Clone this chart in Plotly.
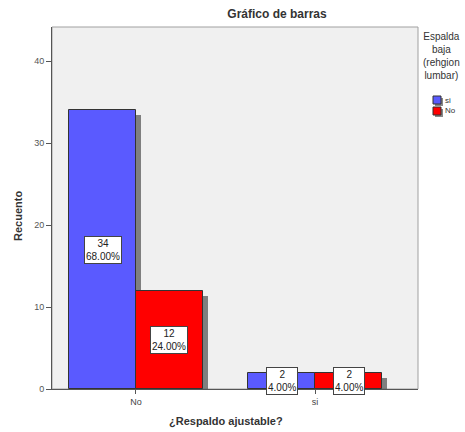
import plotly.graph_objects as go

# Counts by "¿Respaldo ajustable?" (x) and "Espalda baja (rehgion lumbar)" (series)
categories = ["No", "si"]
counts_si = [34, 2]
counts_no = [12, 2]
pct_si = ["68.00%", "4.00%"]
pct_no = ["24.00%", "4.00%"]
series_names = ["si", "No"]
series_colors = ["#5A5AFF", "#FF0000"]

W, H = 465, 432
L, R, T, B = 52, 47, 27, 43
plot_w = W - L - R
plot_h = H - T - B

x_pos = list(range(len(categories)))
bar_w = 0.374
x_range = [-0.469, 1.575]
y_range = [0, 44.15]

# pixel -> data unit conversions for the drop shadow
px_x = (x_range[1] - x_range[0]) / plot_w
px_y = (y_range[1] - y_range[0]) / plot_h
sh_dx, sh_dy = 5 * px_x, 5 * px_y

font = "Arial, Liberation Sans, sans-serif"
fig = go.Figure()

offsets = [-bar_w, 0.0]
all_counts = [counts_si, counts_no]
all_pcts = [pct_si, pct_no]

# shadows first
for off, vals in zip(offsets, all_counts):
    fig.add_trace(go.Bar(
        x=x_pos, y=vals, base=[-sh_dy] * len(vals), offset=off + sh_dx, width=bar_w,
        marker=dict(color="rgba(90,90,90,0.75)", line=dict(width=0)),
        showlegend=False, hoverinfo="skip"))

for name, color, off, vals in zip(series_names, series_colors, offsets, all_counts):
    fig.add_trace(go.Bar(
        x=x_pos, y=vals, offset=off, width=bar_w, name=name,
        marker=dict(color=color, line=dict(color="#333333", width=1)),
        showlegend=False))

# value labels in white boxes
for off, vals, pcts in zip(offsets, all_counts, all_pcts):
    for xi, v, p in zip(x_pos, vals, pcts):
        fig.add_annotation(
            x=xi + off + bar_w / 2, y=v / 2, xref="x", yref="y",
            text=f"{v}<br>{p}", showarrow=False,
            font=dict(family=font, size=10, color="#222222"),
            bgcolor="white", bordercolor="#444444", borderwidth=1, borderpad=1)

def px2paper(px, py):
    return (px - L) / plot_w, (H - B - py) / plot_h

# axis titles
tx, ty = px2paper(18, 216)
fig.add_annotation(x=tx, y=ty, xref="paper", yref="paper", text="<b>Recuento</b>",
                   textangle=-90, showarrow=False, xanchor="center", yanchor="middle",
                   font=dict(family=font, size=11, color="#333333"))
tx, ty = px2paper(226, 421)
fig.add_annotation(x=tx, y=ty, xref="paper", yref="paper", text="<b>¿Respaldo ajustable?</b>",
                   showarrow=False, xanchor="center", yanchor="middle",
                   font=dict(family=font, size=11, color="#333333"))

# legend drawn by hand
fig.add_annotation(
    x=px2paper(441, 0)[0], y=px2paper(0, 29)[1], xref="paper", yref="paper",
    text="Espalda<br>baja<br>(rehgion<br>lumbar)", showarrow=False,
    xanchor="center", yanchor="top", align="center",
    font=dict(family=font, size=10, color="#333333"))

shapes = []
for i, (name, color) in enumerate(zip(series_names, series_colors)):
    top = 96 + i * 11
    x0, y0 = px2paper(433, top + 8)
    x1, y1 = px2paper(441, top)
    sx0, sy0 = px2paper(435, top + 10)
    sx1, sy1 = px2paper(443, top + 2)
    shapes.append(dict(type="rect", xref="paper", yref="paper", x0=sx0, x1=sx1,
                       y0=sy0, y1=sy1, fillcolor="#888888", line=dict(width=0)))
    shapes.append(dict(type="rect", xref="paper", yref="paper", x0=x0, x1=x1,
                       y0=y0, y1=y1, fillcolor=color, line=dict(color="#333333", width=1)))
    lx, ly = px2paper(443, top + 4)
    fig.add_annotation(x=lx, y=ly, xref="paper", yref="paper", text=name,
                       showarrow=False, xanchor="left", yanchor="middle",
                       font=dict(family=font, size=8, color="#333333"))

# plot frame (top/right lighter border)
shapes.append(dict(type="rect", xref="x domain", yref="y domain", x0=0, x1=1, y0=0, y1=1,
                   line=dict(color="#A0A0A0", width=1), layer="below"))

fig.update_layout(
    width=W, height=H,
    margin=dict(l=L, r=R, t=T, b=B, pad=0, autoexpand=False),
    paper_bgcolor="white", plot_bgcolor="#F0F0F0",
    barmode="overlay", bargap=0,
    shapes=shapes,
    title=dict(text="<b>Gráfico de barras</b>", x=277 / W,
               xanchor="center", y=1 - 14 / H, yanchor="middle",
               font=dict(family=font, size=12, color="#333333")),
    font=dict(family=font),
)

fig.update_xaxes(
    range=x_range, tickvals=x_pos, ticktext=categories,
    showline=True, linecolor="#555555", linewidth=1,
    ticks="outside", ticklen=4, tickcolor="#555555",
    tickfont=dict(family=font, size=9, color="#444444"),
    showgrid=False, zeroline=False, automargin=False)

fig.update_yaxes(
    range=y_range, tickvals=[0, 10, 20, 30, 40],
    showline=True, linecolor="#555555", linewidth=1,
    ticks="outside", ticklen=5, tickcolor="#555555",
    tickfont=dict(family=font, size=9, color="#555555"),
    showgrid=False, zeroline=False, automargin=False)

fig.write_html("out.html")
